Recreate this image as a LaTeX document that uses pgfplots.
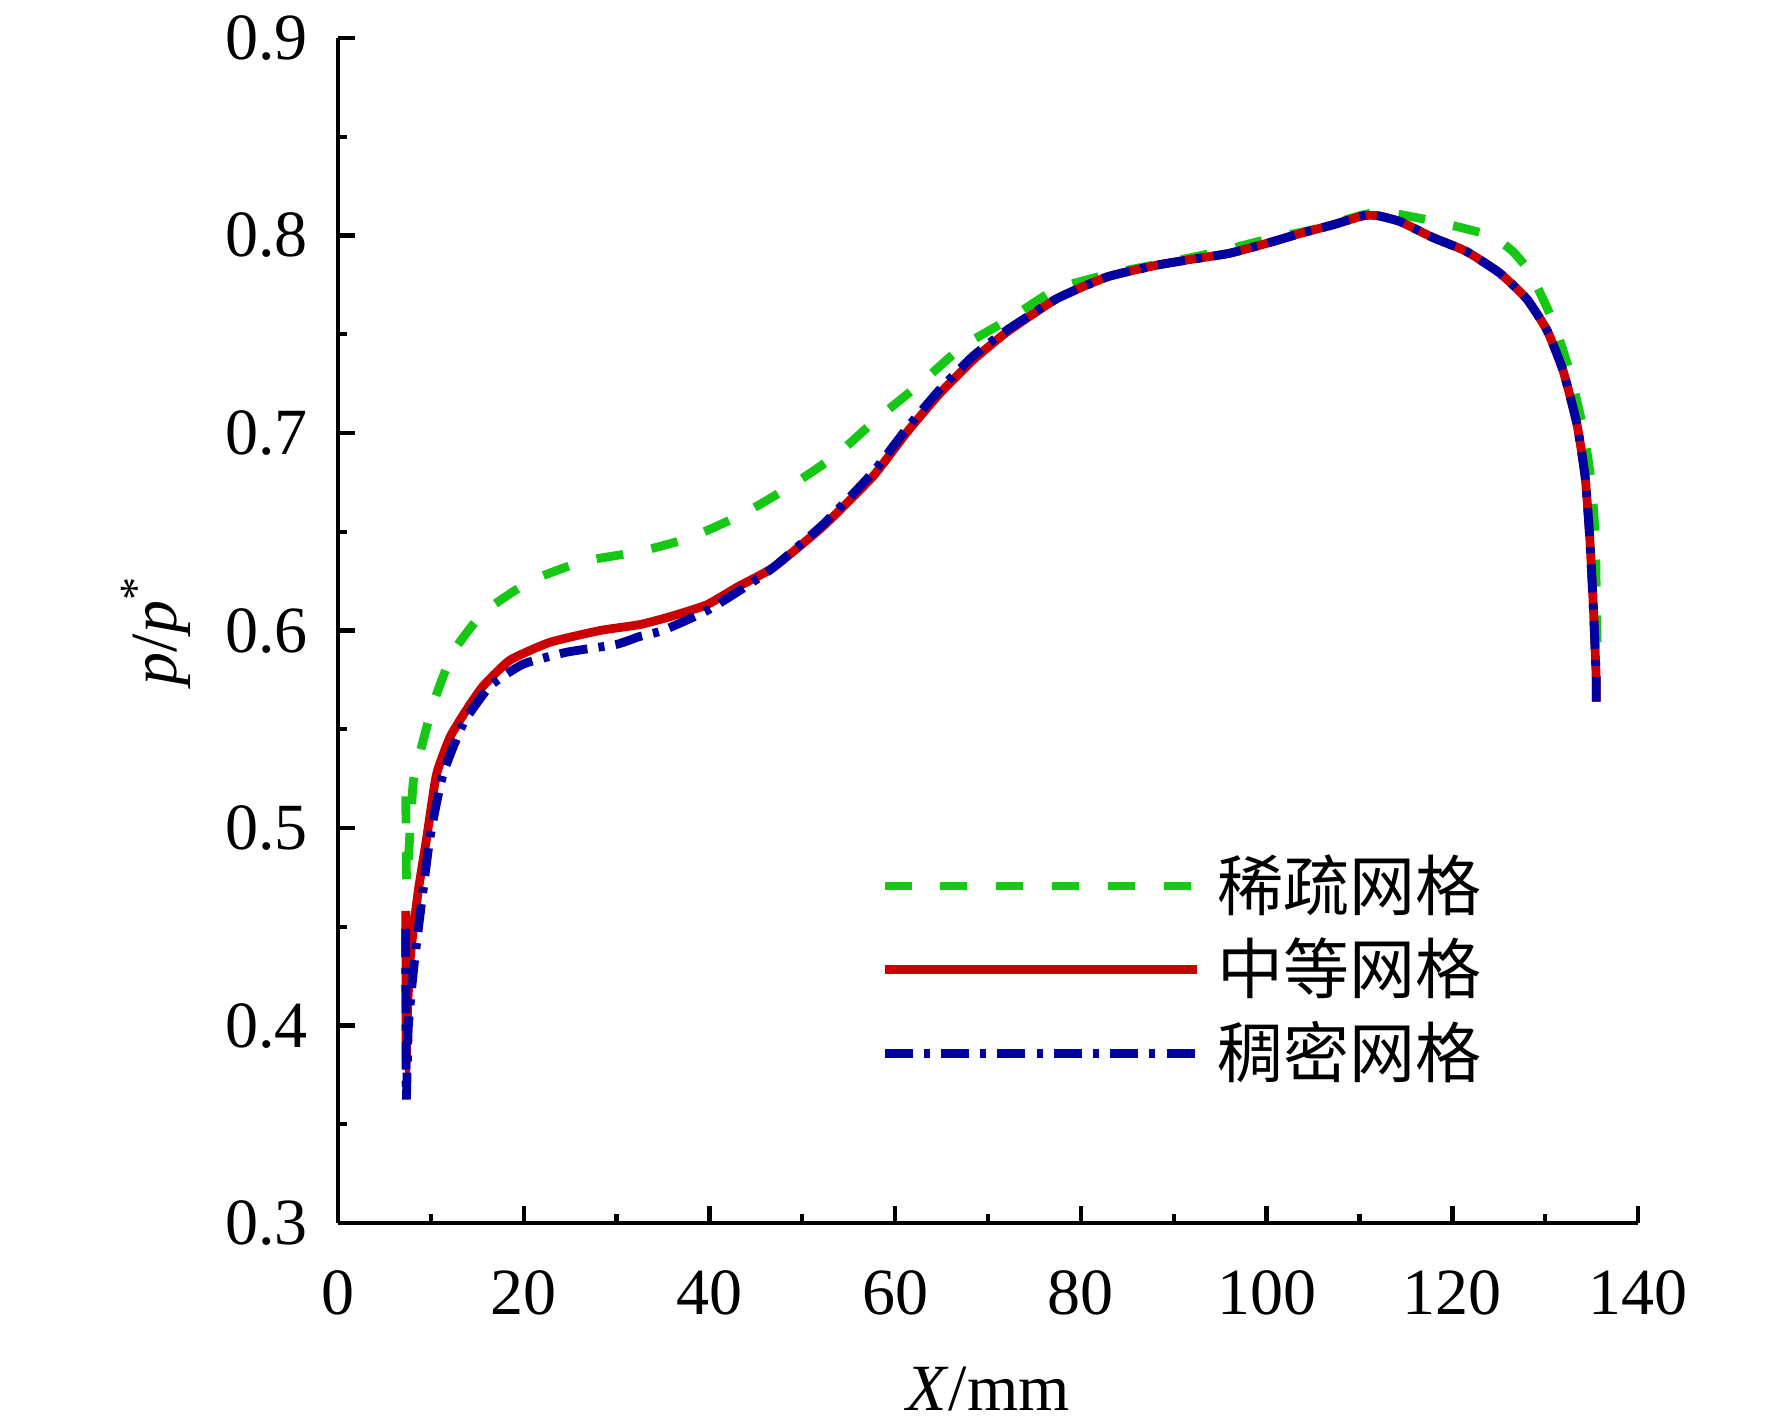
\documentclass[border=0pt]{standalone}
\usepackage{pgfplots}
\pgfplotsset{compat=1.18}
\usepackage{fontspec}
\setmainfont{Liberation Serif}
\newfontfamily\cjk{Noto Sans CJK SC}
\definecolor{cgreen}{RGB}{20,200,20}
\definecolor{cred}{RGB}{204,0,0}
\definecolor{cblue}{RGB}{0,0,160}
\begin{document}
\begin{tikzpicture}
\begin{axis}[
  name=ax,
  scale only axis, width=325pt, height=296.25pt,
  xmin=0, xmax=140, ymin=0.3, ymax=0.9,
  axis x line*=bottom, axis y line*=left,
  axis line style={line width=1.1pt},
  xtick={0,20,...,140}, ytick={0.3,0.4,...,0.9},
  minor x tick num=1, minor y tick num=1,
  tick align=inside,
  major tick length=4.25pt, minor tick length=2.25pt,
  every tick/.style={black, line width=1.1pt},
  /pgf/number format/assume math mode=true,
  yticklabel style={/pgf/number format/fixed, /pgf/number format/precision=1, /pgf/number format/fixed zerofill, xshift=-4pt},
  xticklabel style={yshift=-8.4pt},
  tick label style={font=\fontsize{16.5}{16.5}\selectfont},
  label style={font=\fontsize{16.5}{16.5}\selectfont},
  xlabel={\textit{X}/mm},
  ylabel={\textit{p}/\textit{p}\textsuperscript{*}},
  xlabel style={at={(axis description cs:0.5,-0.1578)}, anchor=base},
  ylabel style={at={(axis description cs:-0.14,0.5)}, anchor=center},
  legend image code/.code={\draw[#1] (0pt,1pt) -- (78pt,1pt);},
  legend cell align=left,
  legend style={at={(axis description cs:0.4165,0.3087)}, anchor=north west,
    draw=none, fill=none, inner sep=0pt, row sep=4.9pt, column sep=4.0pt,
    font=\cjk\fontsize{16.5}{16.5}\selectfont,
    nodes={inner sep=0pt, text height=13pt, text depth=3pt}},
  every axis plot/.append style={smooth, tension=0.3},
]
\addplot[cgreen, line width=2.2pt, dash pattern=on 6.75pt off 7.2pt] coordinates {
(7.3,0.516) (7.38,0.472) (7.6,0.486) (8.1,0.523) (8.83,0.538) (10.26,0.563) (12.4,0.589)
(15.65,0.609) (20.7,0.625) (26.4,0.635) (32.5,0.640) (37.9,0.647) (43.6,0.659) (48.7,0.673)
(53.7,0.689) (58.0,0.707) (62.7,0.725) (67.3,0.744) (72.4,0.758) (77.4,0.773) (83.5,0.781)
(90,0.787) (95,0.792) (100,0.798) (105,0.803) (110,0.810) (112.6,0.812) (118.3,0.807)
(124.1,0.800) (126.5,0.792) (128.4,0.781) (130.9,0.756) (132.7,0.730) (134.1,0.702) (135.0,0.674)
(135.4,0.647) (135.5,0.620) (135.6,0.590)
};
\addlegendentry{稀疏网格}
\addplot[cred, line width=2.2pt] coordinates {
(7.3,0.458) (7.35,0.384) (7.5,0.41) (7.8,0.435) (8.2,0.452) (8.7,0.470) (9.55,0.495)
(10.6,0.527) (12.06,0.546) (13.86,0.560) (15.65,0.572) (18.52,0.585) (22.8,0.594)
(28.2,0.600) (32.5,0.603) (35.75,0.607) (39.7,0.613) (43,0.622) (46.9,0.632) (52.3,0.653)
(57.6,0.678) (61.2,0.700) (64.8,0.720) (68.4,0.737) (72.0,0.751) (77.4,0.768) (82.8,0.779)
(88.2,0.785) (92,0.788) (96,0.791) (100,0.796) (103.6,0.801) (107.2,0.8055) (110.4,0.810)
(112,0.810) (114.4,0.807) (117.9,0.799) (121.5,0.792) (125.1,0.781) (128.0,0.768)
(130.2,0.752) (131.9,0.732) (133.4,0.705) (134.3,0.678) (134.8,0.647) (135.2,0.611)
(135.5,0.575) (135.5,0.564)
};
\addlegendentry{中等网格}
\addplot[cblue, line width=2.2pt, dash pattern=on 7pt off 2.8pt on 1.5pt off 2.8pt] coordinates {
(7.3,0.449) (7.35,0.363) (7.57,0.399) (8.0,0.422) (8.47,0.442) (9.9,0.495) (11.3,0.527)
(13.5,0.553) (16.4,0.572) (19.96,0.583) (24.6,0.589) (30,0.593) (32.5,0.597) (35,0.600)
(39.7,0.610) (43.5,0.621) (46.9,0.632) (52.3,0.654) (57.6,0.680) (61.2,0.702) (64.8,0.722)
(68.4,0.739) (72.0,0.752) (77.4,0.768) (82.8,0.779) (88.2,0.785) (92,0.788) (96,0.791)
(100,0.796) (103.6,0.801) (107.2,0.8055) (110.4,0.810) (112,0.810) (114.4,0.807)
(117.9,0.799) (121.5,0.792) (125.1,0.781) (128.0,0.768) (130.2,0.752) (131.9,0.732)
(133.4,0.705) (134.3,0.678) (134.8,0.647) (135.2,0.611) (135.5,0.575) (135.5,0.564)
};
\addlegendentry{稠密网格}
\end{axis}
\pgfresetboundingbox
\path[use as bounding box] ([shift={(-84.5pt,-51pt)}]ax.south west) rectangle ([shift={(358.5pt,305.75pt)}]ax.south west);
\end{tikzpicture}
\end{document}
